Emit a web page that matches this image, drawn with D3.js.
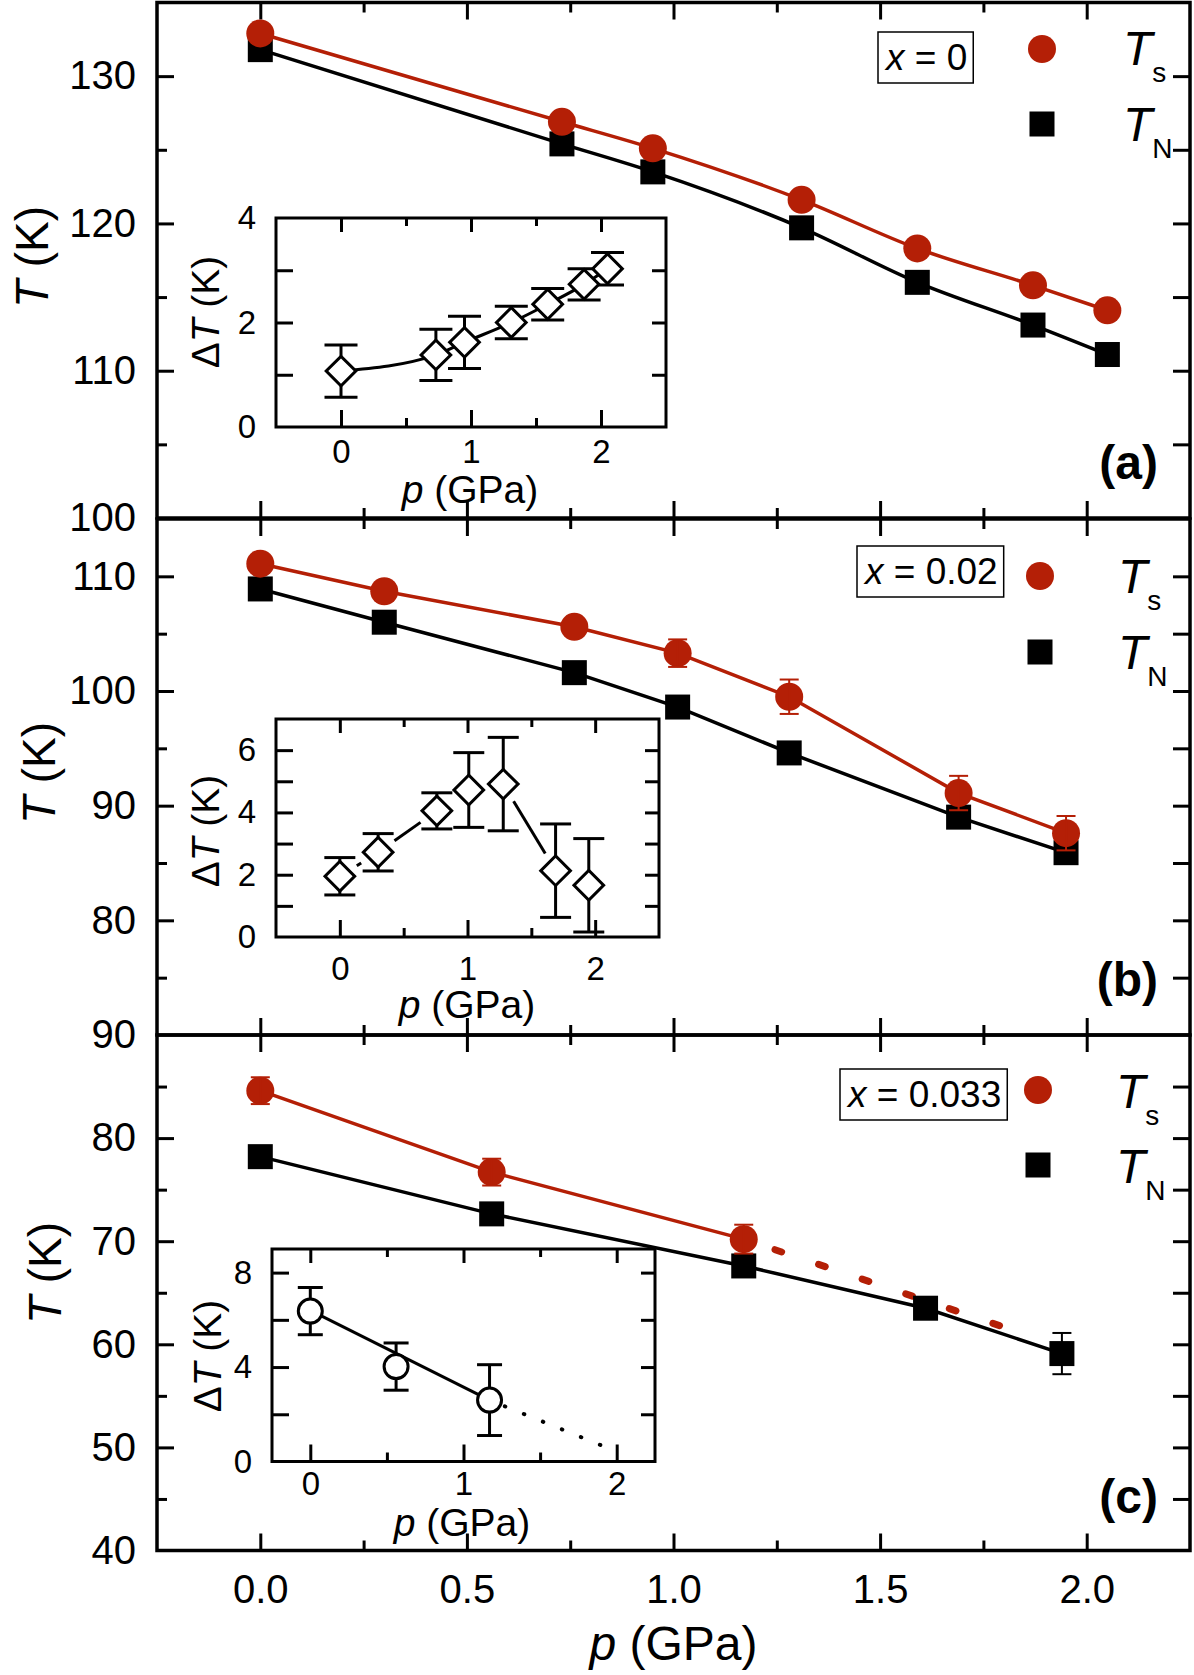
<!DOCTYPE html>
<html>
<head>
<meta charset="utf-8">
<script src="https://cdn.jsdelivr.net/npm/d3@7"></script>
<style>
  body { margin: 0; background: #fff; }
  svg { display: block; }
</style>
</head>
<body>
<div id="graph"></div>
<script>
// ---- values ----
// panel (a), x = 0
const pA = [0, 0.73, 0.95, 1.31, 1.59, 1.87, 2.05];
const tsA = [132.9, 126.9, 125.1, 121.6, 118.3, 115.8, 114.1];
const tnA = [131.8, 125.4, 123.5, 119.7, 116.0, 113.1, 111.1];
const dtA = [1.07, 1.38, 1.62, 2.00, 2.35, 2.73, 3.03];
const dtAErr = [0.5, 0.49, 0.5, 0.31, 0.3, 0.3, 0.31];

// panel (b), x = 0.02
const pB = [0, 0.30, 0.76, 1.01, 1.28, 1.69, 1.95];
const tsB = [111.1, 108.7, 105.6, 103.3, 99.5, 91.1, 87.6];
const tsBErr = [0, 0, 0, 1.2, 1.5, 1.5, 1.5];
const tnB = [108.9, 106.0, 101.6, 98.6, 94.6, 89.0, 85.9];
const dtB = [1.95, 2.72, 4.05, 4.72, 4.91, 2.13, 1.66];
const dtBErr = [0.6, 0.6, 0.58, 1.2, 1.5, 1.5, 1.5];

// panel (c), x = 0.033
const pCs = [0, 0.56, 1.17];
const tsC = [84.6, 76.7, 70.2];
const tsCErr = [1.3, 1.3, 1.4];
const pCn = [0, 0.56, 1.17, 1.61, 1.94];
const tnC = [78.2, 72.65, 67.6, 63.5, 59.1];
const tnCErr = [0, 0, 0, 0, 2.0];
const tsCExtP = [1.17, 1.79];   // dotted extrapolation of Ts
const tsCExtT = [70.2, 61.8];
const dtC = [6.37, 4.02, 2.60];
const dtCErr = [1.0, 1.0, 1.5];
const dtCFitP = [0, 1.17];
const dtCFitT = [6.4, 2.6];
const dtCExtP = [1.17, 1.97];
const dtCExtT = [2.6, 0.5];

// ticks and labels
const xTicks = [0, 0.5, 1, 1.5, 2];
const xMinorTicks = [0.25, 0.75, 1.25, 1.75];
const yLabelsA = [100, 110, 120, 130];
const yLabelsB = [80, 90, 100, 110];
const yLabelsC = [40, 50, 60, 70, 80, 90];
const insetXLabels = [0, 1, 2];
const insetYLabelsA = [0, 2, 4];
const insetYLabelsB = [0, 2, 4, 6];
const insetYLabelsC = [0, 4, 8];
const xValues = ["0", "0.02", "0.033"];
const panelNames = ["(a)", "(b)", "(c)"];

const FONT = '"Liberation Sans", Arial, Helvetica, sans-serif';
const RED = "#b41f06";
const intFmt = d3.format("d");

const svg = d3.select("#graph")
    .append("svg")
    .attr("width", 1194)
    .attr("height", 1675)
    .attr("font-family", FONT);

// main x scale shared by the three panels
const x = d3.scaleLinear().domain([-0.25, 2.25]).range([157, 1190]);

// tidy up a d3 axis group
function clean(g, size, sw) {
    g.attr("font-family", FONT).attr("font-size", size);
    g.select(".domain").remove();
    g.selectAll("line").attr("stroke-width", sw);
    g.selectAll("text").attr("fill", "#000");
}

// ---------- main panels ----------
const panels = [
    {yDom: [100, 135], yRange: [518, 2.5], labels: yLabelsA, title: [36, 257],
     box: [886, 70], mk: [1042, 49, 124], tx: [1123, 65, 141], tag: 479},
    {yDom: [70, 115], yRange: [1035, 519], labels: yLabelsB, title: [43, 773],
     box: [865, 584], mk: [1040, 576, 652], tx: [1118, 593, 669], tag: 996},
    {yDom: [40, 90], yRange: [1550.5, 1035], labels: yLabelsC, title: [49, 1273],
     box: [848, 1107], mk: [1038, 1090, 1165], tx: [1116, 1108, 1183], tag: 1513}
];

panels.forEach((pn, i) => {
    const y = d3.scaleLinear().domain(pn.yDom).range(pn.yRange);
    pn.y = y;
    const [lo, hi] = pn.yDom;
    const top = y(hi), bot = y(lo);
    const steps = d3.range(lo + 5, hi, 5);
    const maj = steps.filter(v => v % 10 === 0);
    const min = steps.filter(v => v % 10 !== 0);

    svg.append("rect")
        .attr("x", x.range()[0]).attr("y", top)
        .attr("width", x.range()[1] - x.range()[0]).attr("height", bot - top)
        .attr("fill", "none").attr("stroke", "#000").attr("stroke-width", 3.5);

    // left ticks
    svg.append("g").attr("transform", "translate(157,0)")
        .call(d3.axisLeft(y).tickValues(maj).tickSize(-17).tickFormat(""))
        .call(g => clean(g, 40, 3));
    svg.append("g").attr("transform", "translate(157,0)")
        .call(d3.axisLeft(y).tickValues(min).tickSize(-10).tickFormat(""))
        .call(g => clean(g, 40, 3));
    svg.append("g").attr("transform", "translate(157,0)")
        .call(d3.axisLeft(y).tickValues(pn.labels).tickSize(0).tickPadding(21).tickFormat(intFmt))
        .call(g => clean(g, 40, 0));
    // right ticks
    svg.append("g").attr("transform", "translate(1190,0)")
        .call(d3.axisRight(y).tickValues(steps).tickSize(-17).tickFormat(""))
        .call(g => clean(g, 40, 3));
    // top and bottom ticks
    svg.append("g").attr("transform", `translate(0,${top})`)
        .call(d3.axisTop(x).tickValues(xTicks).tickSize(-17).tickFormat(""))
        .call(g => clean(g, 40, 3));
    svg.append("g").attr("transform", `translate(0,${top})`)
        .call(d3.axisTop(x).tickValues(xMinorTicks).tickSize(-10).tickFormat(""))
        .call(g => clean(g, 40, 3));
    svg.append("g").attr("transform", `translate(0,${bot})`)
        .call(d3.axisBottom(x).tickValues(xTicks).tickSize(-17).tickFormat(""))
        .call(g => clean(g, 40, 3));
    svg.append("g").attr("transform", `translate(0,${bot})`)
        .call(d3.axisBottom(x).tickValues(xMinorTicks).tickSize(-10).tickFormat(""))
        .call(g => clean(g, 40, 3));

    // y title
    const t = svg.append("text")
        .attr("transform", `translate(${pn.title[0]},${pn.title[1]}) rotate(-90)`)
        .attr("text-anchor", "middle").attr("dy", "0.27em")
        .attr("font-size", 46);
    t.append("tspan").attr("font-style", "italic").text("T");
    t.append("tspan").text(" (K)");

    // legend box with composition
    const lt = svg.append("text")
        .attr("x", pn.box[0]).attr("y", pn.box[1])
        .attr("font-size", 37);
    lt.append("tspan").attr("font-style", "italic").text("x");
    lt.append("tspan").text(" = " + xValues[i]);
    const bb = lt.node().getBBox();
    svg.insert("rect", () => lt.node())
        .attr("x", bb.x - 6).attr("y", bb.y - 5)
        .attr("width", bb.width + 12).attr("height", bb.height + 10)
        .attr("fill", "#fff").attr("stroke", "#000").attr("stroke-width", 1.5);

    // legend markers and T_s / T_N entries
    svg.append("circle").attr("cx", pn.mk[0]).attr("cy", pn.mk[1]).attr("r", 14).attr("fill", RED);
    svg.append("rect").attr("x", pn.mk[0] - 12.5).attr("y", pn.mk[2] - 12.5)
        .attr("width", 25).attr("height", 25).attr("fill", "#000");
    [["s", pn.tx[1]], ["N", pn.tx[2]]].forEach(([sub, base]) => {
        const lg = svg.append("text").attr("x", pn.tx[0]).attr("y", base);
        lg.append("tspan").attr("font-size", 48).attr("font-style", "italic").text("T");
        lg.append("tspan").attr("font-size", 28).attr("dy", 17).text(sub);
    });

    // panel tag
    svg.append("text").attr("x", 1158).attr("y", pn.tag)
        .attr("text-anchor", "end").attr("font-size", 48).attr("font-weight", "bold")
        .text(panelNames[i]);
});

// bottom tick labels and x title
svg.append("g").attr("transform", "translate(0,1550.5)")
    .call(d3.axisBottom(x).tickValues(xTicks).tickSize(0).tickPadding(24).tickFormat(d3.format(".1f")))
    .call(g => clean(g, 40, 0));

const xt = svg.append("text")
    .attr("x", x(1)).attr("y", 1660)
    .attr("text-anchor", "middle").attr("font-size", 48);
xt.append("tspan").attr("font-style", "italic").text("p");
xt.append("tspan").text(" (GPa)");

// ---------- insets ----------
const insets = [
    {box: [276, 666, 218, 427], xDom: [-0.5, 2.5], yDom: [0, 4], yStep: 1,
     yLabels: insetYLabelsA, xPad: 13, titleY: 503, titleX: 470, yTitle: [208, 312]},
    {box: [276, 659, 719, 937], xDom: [-0.5, 2.5], yDom: [0, 7], yStep: 1,
     yLabels: insetYLabelsB, xPad: 20, titleY: 1018, titleX: 467, yTitle: [208, 831]},
    {box: [272, 655, 1249, 1461.5], xDom: [-0.25, 2.25], yDom: [0, 9], yStep: 2,
     yLabels: insetYLabelsC, xPad: 10, titleY: 1536, titleX: 462, yTitle: [210, 1356]}
];

insets.forEach(ins => {
    const [x0, x1, y0, y1] = ins.box;
    const ix = d3.scaleLinear().domain(ins.xDom).range([x0, x1]);
    const iy = d3.scaleLinear().domain(ins.yDom).range([y1, y0]);
    ins.x = ix;
    ins.y = iy;
    const ySteps = d3.range(ins.yDom[0] + ins.yStep, ins.yDom[1], ins.yStep);

    svg.append("rect").attr("x", x0).attr("y", y0)
        .attr("width", x1 - x0).attr("height", y1 - y0)
        .attr("fill", "none").attr("stroke", "#000").attr("stroke-width", 3);

    svg.append("g").attr("transform", `translate(${x0},0)`)
        .call(d3.axisLeft(iy).tickValues(ySteps).tickSize(-17).tickFormat(""))
        .call(g => clean(g, 33, 3));
    svg.append("g").attr("transform", `translate(${x0},0)`)
        .call(d3.axisLeft(iy).tickValues(ins.yLabels).tickSize(0).tickPadding(20).tickFormat(intFmt))
        .call(g => clean(g, 33, 0));
    svg.append("g").attr("transform", `translate(${x1},0)`)
        .call(d3.axisRight(iy).tickValues(ySteps).tickSize(-14).tickFormat(""))
        .call(g => clean(g, 33, 3));

    svg.append("g").attr("transform", `translate(0,${y1})`)
        .call(d3.axisBottom(ix).tickValues(insetXLabels).tickSize(-17).tickFormat(""))
        .call(g => clean(g, 33, 3));
    svg.append("g").attr("transform", `translate(0,${y1})`)
        .call(d3.axisBottom(ix).tickValues([0.5, 1.5]).tickSize(-9).tickFormat(""))
        .call(g => clean(g, 33, 3));
    svg.append("g").attr("transform", `translate(0,${y1})`)
        .call(d3.axisBottom(ix).tickValues(insetXLabels).tickSize(0).tickPadding(ins.xPad).tickFormat(intFmt))
        .call(g => clean(g, 33, 0));
    svg.append("g").attr("transform", `translate(0,${y0})`)
        .call(d3.axisTop(ix).tickValues(insetXLabels).tickSize(-14).tickFormat(""))
        .call(g => clean(g, 33, 3));
    svg.append("g").attr("transform", `translate(0,${y0})`)
        .call(d3.axisTop(ix).tickValues([0.5, 1.5]).tickSize(-8).tickFormat(""))
        .call(g => clean(g, 33, 3));

    const pt = svg.append("text").attr("x", ins.titleX).attr("y", ins.titleY)
        .attr("text-anchor", "middle").attr("font-size", 39);
    pt.append("tspan").attr("font-style", "italic").text("p");
    pt.append("tspan").text(" (GPa)");

    const yt = svg.append("text")
        .attr("transform", `translate(${ins.yTitle[0]},${ins.yTitle[1]}) rotate(-90)`)
        .attr("text-anchor", "middle").attr("dy", "0.27em").attr("font-size", 39);
    yt.append("tspan").text("\u0394");
    yt.append("tspan").attr("font-style", "italic").text("T");
    yt.append("tspan").text(" (K)");
});

// helpers for marks
function errorBars(xs, ys, es, sx, sy, cap, color, sw) {
    const g = svg.append("g").attr("stroke", color).attr("stroke-width", sw);
    xs.forEach((p, i) => {
        if (!es[i]) return;
        const cx = sx(p), ya = sy(ys[i] + es[i]), yb = sy(ys[i] - es[i]);
        g.append("line").attr("x1", cx).attr("x2", cx).attr("y1", ya).attr("y2", yb);
        g.append("line").attr("x1", cx - cap / 2).attr("x2", cx + cap / 2).attr("y1", ya).attr("y2", ya);
        g.append("line").attr("x1", cx - cap / 2).attr("x2", cx + cap / 2).attr("y1", yb).attr("y2", yb);
    });
}

function drawLine(xs, ys, sx, sy, color, sw, curve, dash) {
    const path = svg.append("path")
        .datum(xs.map((p, i) => [p, ys[i]]))
        .attr("d", d3.line().x(d => sx(d[0])).y(d => sy(d[1])).curve(curve || d3.curveLinear))
        .attr("fill", "none").attr("stroke", color).attr("stroke-width", sw);
    if (dash) path.attr("stroke-dasharray", dash[0]).attr("stroke-dashoffset", dash[1]).attr("stroke-linecap", "round");
    return path;
}

function squares(xs, ys, sx, sy) {
    svg.append("g").selectAll("rect").data(xs).join("rect")
        .attr("x", (d) => sx(d) - 12.5)
        .attr("y", (d, i) => sy(ys[i]) - 12.5)
        .attr("width", 25).attr("height", 25).attr("fill", "#000");
}

function circles(xs, ys, sx, sy, r, fill, stroke, sw) {
    svg.append("g").selectAll("circle").data(xs).join("circle")
        .attr("cx", (d) => sx(d))
        .attr("cy", (d, i) => sy(ys[i]))
        .attr("r", r).attr("fill", fill)
        .attr("stroke", stroke || "none").attr("stroke-width", sw || 0);
}

function diamonds(xs, ys, sx, sy) {
    const sym = d3.symbol().type(d3.symbolSquare).size(440);
    svg.append("g").selectAll("path").data(xs).join("path")
        .attr("d", sym)
        .attr("transform", (d, i) => `translate(${sx(d)},${sy(ys[i])}) rotate(45)`)
        .attr("fill", "#fff").attr("stroke", "#000").attr("stroke-width", 3);
}

// ---------- inset data ----------
const [inA, inB, inC] = insets;

// (a) smooth line through the points
drawLine(pA, dtA, inA.x, inA.y, "#000", 3, d3.curveMonotoneX);
errorBars(pA, dtA, dtAErr, inA.x, inA.y, 33, "#000", 3);
diamonds(pA, dtA, inA.x, inA.y);

// (b) straight segments with a gap around each symbol
const gapG = svg.append("g").attr("stroke", "#000").attr("stroke-width", 3);
for (let i = 0; i < pB.length - 1; i++) {
    const xa = inB.x(pB[i]), ya = inB.y(dtB[i]);
    const xb = inB.x(pB[i + 1]), yb = inB.y(dtB[i + 1]);
    const len = Math.hypot(xb - xa, yb - ya), gap = 20;
    if (len <= 2 * gap) continue;
    const ux = (xb - xa) / len, uy = (yb - ya) / len;
    gapG.append("line")
        .attr("x1", xa + ux * gap).attr("y1", ya + uy * gap)
        .attr("x2", xb - ux * gap).attr("y2", yb - uy * gap);
}
errorBars(pB, dtB, dtBErr, inB.x, inB.y, 31, "#000", 3);
diamonds(pB, dtB, inB.x, inB.y);

// (c) linear fit, dotted extrapolation, open circles
drawLine(dtCFitP, dtCFitT, inC.x, inC.y, "#000", 3);
drawLine(dtCExtP, dtCExtT, inC.x, inC.y, "#000", 4, null, ["0.5 20", 4]);
errorBars(pCs, dtC, dtCErr, inC.x, inC.y, 25, "#000", 3);
circles(pCs, dtC, inC.x, inC.y, 12, "#fff", "#000", 3);

// ---------- main data ----------
const [pa, pb, pc] = panels;

// (a)
drawLine(pA, tsA, x, pa.y, RED, 3.5, d3.curveMonotoneX);
drawLine(pA, tnA, x, pa.y, "#000", 3.5, d3.curveMonotoneX);
squares(pA, tnA, x, pa.y);
circles(pA, tsA, x, pa.y, 14, RED);

// (b)
drawLine(pB, tsB, x, pb.y, RED, 3.5);
drawLine(pB, tnB, x, pb.y, "#000", 3.5);
squares(pB, tnB, x, pb.y);
circles(pB, tsB, x, pb.y, 14, RED);
errorBars(pB, tsB, tsBErr, x, pb.y, 19, RED, 2);

// (c)
drawLine(pCs, tsC, x, pc.y, RED, 3.5);
drawLine(tsCExtP, tsCExtT, x, pc.y, RED, 7, null, ["7 39", 13]);
drawLine(pCn, tnC, x, pc.y, "#000", 3.5);
squares(pCn, tnC, x, pc.y);
circles(pCs, tsC, x, pc.y, 14, RED);
errorBars(pCs, tsC, tsCErr, x, pc.y, 19, RED, 2);
errorBars(pCn, tnC, tnCErr, x, pc.y, 19, "#000", 2);
</script>
</body>
</html>
